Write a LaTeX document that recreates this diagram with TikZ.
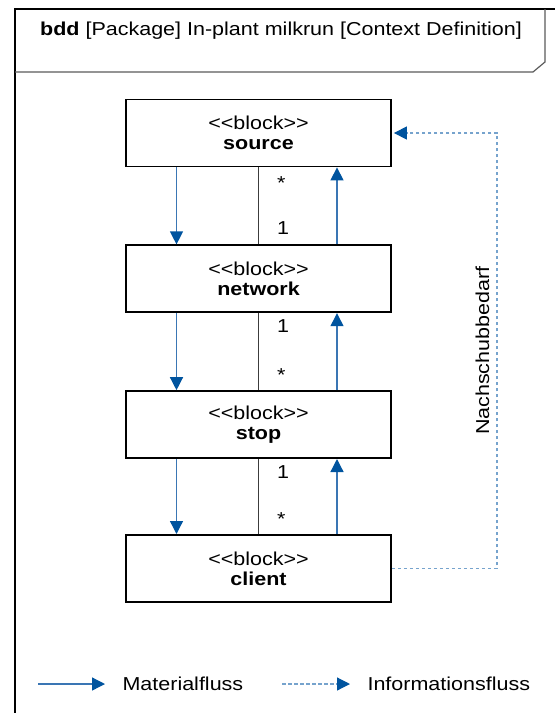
\documentclass[tikz,border=0pt]{standalone}
\usepackage{fontspec}
\setmainfont{Liberation Sans}[FakeStretch=1.15]
\usetikzlibrary{arrows.meta, positioning}
\definecolor{flowblue}{RGB}{0, 84, 159}
\definecolor{flowline}{RGB}{58, 118, 180}
\definecolor{infoline}{RGB}{118, 163, 205}
\definecolor{assocgray}{RGB}{60, 60, 60}
\definecolor{tabgray}{RGB}{90, 90, 90}

\begin{document}
\begin{tikzpicture}[
    x=1pt, y=-1pt,
    font=\fontsize{18.7}{20}\selectfont,
    block/.style={rectangle, draw, line width=1.8pt, minimum width=265pt, minimum height=67pt, align=center},
    mat/.style={draw=flowline, line width=1.3pt, -{Triangle[length=13pt, width=13pt, color=flowblue]}},
    info/.style={draw=infoline, line width=1.2pt, dash pattern=on 3.5pt off 2.5pt, -{Triangle[length=13pt, width=13pt, color=flowblue]}},
    assoc/.style={draw=assocgray, line width=1.2pt},
    mult/.style={inner sep=0pt, right=18pt}
]
\useasboundingbox (0,0) rectangle (555,713);

% diagram frame and header
\draw[line width=1.5pt] (15,713) -- (15,9) -- (555,9);
\draw[tabgray, line width=1.2pt] (545,9) -- (545,62) -- (533,72) -- (15,72);
\node (title) at (281,31) {\textbf{bdd} [Package] In-plant milkrun [Context Definition]};

% blocks
\node[block] (source) at (258.5,133) {<{}<block>{}>\\\textbf{source}};
\node[block, below=77pt of source] (network) {<{}<block>{}>\\\textbf{network}};
\node[block, below=77pt of network] (stop) {<{}<block>{}>\\\textbf{stop}};
\node[block, below=75pt of stop] (client) {<{}<block>{}>\\\textbf{client}};

% associations
\draw[assoc] (source.south) -- (network.north) node[mult, pos=0.2] {*} node[mult, pos=0.79] {1};
\draw[assoc] (network.south) -- (stop.north) node[mult, pos=0.17] {1} node[mult, pos=0.8] {*};
\draw[assoc] (stop.south) -- (client.north) node[mult, pos=0.17] {1} node[mult, pos=0.8] {*};

% material flow
\draw[mat] ([xshift=-82pt]source.south) -- ([xshift=-82pt]network.north);
\draw[mat] ([xshift=-82pt]network.south) -- ([xshift=-82pt]stop.north);
\draw[mat] ([xshift=-82pt]stop.south) -- ([xshift=-82pt]client.north);
\draw[mat] ([xshift=78.5pt]network.north) -- ([xshift=78.5pt]source.south);
\draw[mat] ([xshift=78.5pt]stop.north) -- ([xshift=78.5pt]network.south);
\draw[mat] ([xshift=78.5pt]client.north) -- ([xshift=78.5pt]stop.south);

% information flow
\coordinate[right=105pt of client.east] (bend);
\draw[info, shorten >=2pt] (client.east) -- (bend) |- (source.east)
    node[pos=0.25, rotate=90, anchor=south, inner sep=7pt] (need) {Nachschubbedarf};

% legend
\coordinate (matstart) at (38,684);
\coordinate[right=67pt of matstart] (matend);
\draw[mat] (matstart) -- (matend);
\node[right=14pt of matend] (matlabel) {Materialfluss};
\coordinate (infostart) at (282,684);
\coordinate[right=68pt of infostart] (infoend);
\draw[info] (infostart) -- (infoend);
\node[right=14pt of infoend] (infolabel) {Informationsfluss};
\end{tikzpicture}
\end{document}
